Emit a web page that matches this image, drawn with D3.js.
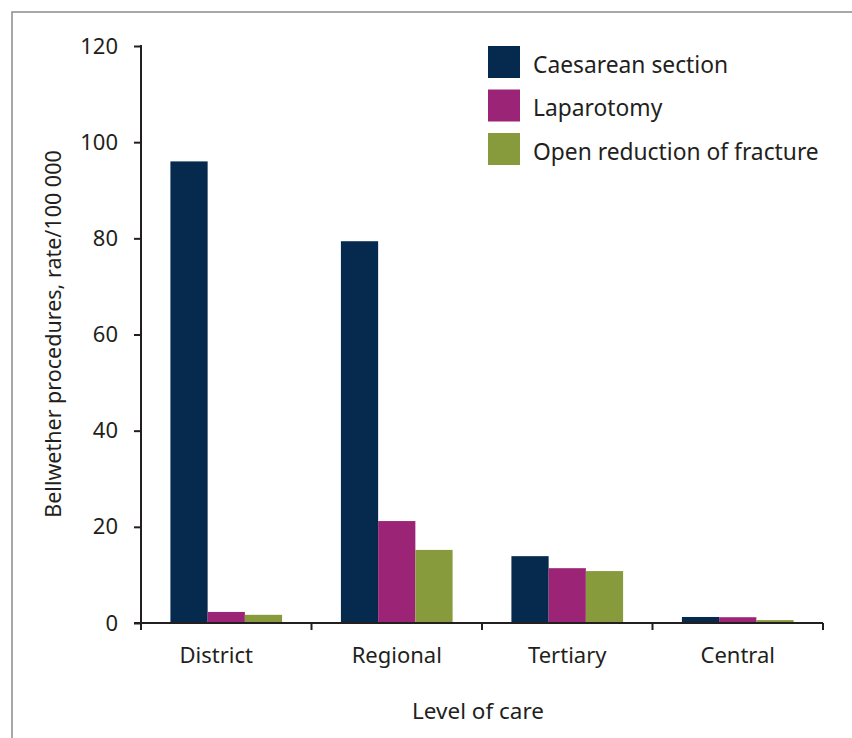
<!DOCTYPE html>
<html>
<head>
<meta charset="utf-8">
<script src="https://cdn.jsdelivr.net/npm/d3@7"></script>
<style>
  body { margin: 0; background: #fff; }
  text { font-family: "Noto Sans", "Open Sans", sans-serif; fill: #231f20; }
</style>
</head>
<body>
<div id="chart"></div>
<script>
var levels = ["District", "Regional", "Tertiary", "Central"];
var series = ["Caesarean section", "Laparotomy", "Open reduction of fracture"];
var colors = ["#052a4e", "#9b2476", "#879b3c"];
var caesarean = [96.0, 79.4, 13.9, 1.25];
var laparotomy = [2.3, 21.2, 11.4, 1.2];
var fracture = [1.7, 15.2, 10.8, 0.6];
var yTicks = [0, 20, 40, 60, 80, 100, 120];

var width = 852, height = 738;
var plot = { left: 141, right: 823, top: 46, bottom: 623 };
// the original label for the first group sits a little left of centre
var labelNudge = { District: -10 };

var svg = d3.select("#chart").append("svg")
  .attr("width", width)
  .attr("height", height);

// grey frame round the figure
svg.append("rect")
  .attr("x", 12).attr("y", 12)
  .attr("width", 900).attr("height", 900)
  .attr("fill", "none")
  .attr("stroke", "#8c8c8c")
  .attr("stroke-width", 1.5);

var x = d3.scaleBand()
  .domain(levels)
  .range([plot.left, plot.right])
  .paddingInner(0).paddingOuter(0);

var inner = d3.scaleBand()
  .domain(series)
  .range([0, x.bandwidth()])
  .paddingOuter(0.79).paddingInner(0);

var y = d3.scaleLinear()
  .domain([0, 120])
  .range([plot.bottom, plot.top]);

var values = [caesarean, laparotomy, fracture];

series.forEach(function(s, si) {
  svg.selectAll("rect.bar-" + si)
    .data(levels)
    .enter().append("rect")
    .attr("class", "bar-" + si)
    .attr("x", function(d) { return x(d) + inner(s); })
    .attr("y", function(d, i) { return y(values[si][i]); })
    .attr("width", inner.bandwidth())
    .attr("height", function(d, i) { return y(0) - y(values[si][i]); })
    .attr("fill", colors[si]);
});

// y axis
var yAxis = svg.append("g")
  .attr("transform", "translate(" + plot.left + ",0)")
  .call(d3.axisLeft(y).tickValues(yTicks).tickSize(7).tickPadding(16));
yAxis.select(".domain").remove();
yAxis.selectAll(".tick line").attr("stroke", "#231f20").attr("stroke-width", 2);
yAxis.selectAll(".tick text").attr("font-size", 22).style("font-family", "'Noto Sans', sans-serif").attr("fill", "#231f20");
yAxis.append("line")
  .attr("x1", 0).attr("x2", 0)
  .attr("y1", plot.top - 1).attr("y2", plot.bottom + 7)
  .attr("stroke", "#231f20").attr("stroke-width", 2);

// x axis
var xAxis = svg.append("g")
  .attr("transform", "translate(0," + plot.bottom + ")");
xAxis.append("line")
  .attr("x1", plot.left - 7).attr("x2", plot.right)
  .attr("y1", 0).attr("y2", 0)
  .attr("stroke", "#231f20").attr("stroke-width", 2);
xAxis.selectAll("line.sep")
  .data(levels.slice(1).concat(["end"]))
  .enter().append("line")
  .attr("class", "sep")
  .attr("x1", function(d) { return d === "end" ? plot.right : x(d); })
  .attr("x2", function(d) { return d === "end" ? plot.right : x(d); })
  .attr("y1", 0).attr("y2", 7)
  .attr("stroke", "#231f20").attr("stroke-width", 2);
xAxis.selectAll("text.cat")
  .data(levels)
  .enter().append("text")
  .attr("class", "cat")
  .attr("x", function(d) { return x(d) + x.bandwidth() / 2 + (labelNudge[d] || 0); })
  .attr("y", 40)
  .attr("text-anchor", "middle")
  .attr("font-size", 22)
  .text(function(d) { return d; });

// axis titles
svg.append("text")
  .attr("x", 478)
  .attr("y", 719)
  .attr("text-anchor", "middle")
  .attr("font-size", 22.5)
  .text("Level of care");

svg.append("text")
  .attr("transform", "translate(61,334) rotate(-90)")
  .attr("text-anchor", "middle")
  .attr("font-size", 21.5)
  .text("Bellwether procedures, rate/100 000");

// legend
var legend = svg.append("g").attr("transform", "translate(488,46)");
series.forEach(function(s, i) {
  var row = legend.append("g").attr("transform", "translate(0," + (i * 43.5) + ")");
  row.append("rect")
    .attr("width", 32).attr("height", 32)
    .attr("fill", colors[i]);
  row.append("text")
    .attr("x", 45).attr("y", 26.5)
    .attr("font-size", 22.8)
    .text(s);
});
</script>
</body>
</html>
